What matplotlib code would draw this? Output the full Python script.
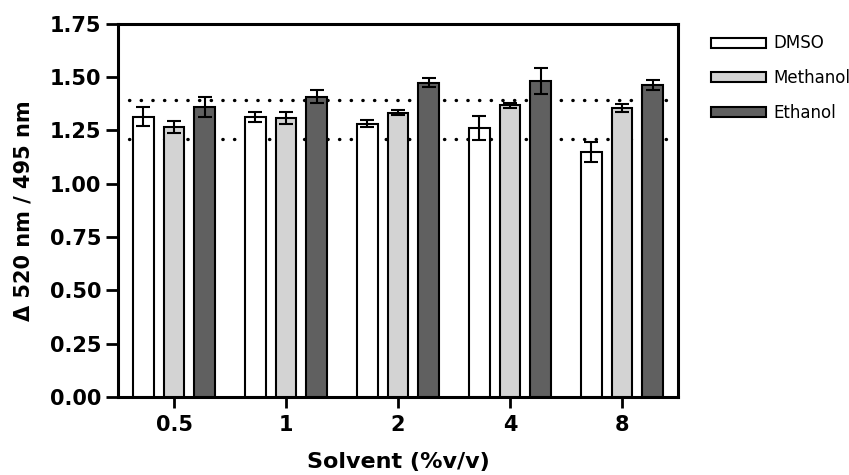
import matplotlib
matplotlib.use("Agg")
import matplotlib.pyplot as plt
import numpy as np

# data
concentrations = ["0.5", "1", "2", "4", "8"]
solvents = ["DMSO", "Methanol", "Ethanol"]
dmso = [1.314, 1.312, 1.280, 1.259, 1.148]
dmso_err = [0.044, 0.024, 0.017, 0.057, 0.049]
methanol = [1.264, 1.308, 1.333, 1.366, 1.355]
methanol_err = [0.027, 0.027, 0.014, 0.012, 0.020]
ethanol = [1.359, 1.408, 1.473, 1.481, 1.462]
ethanol_err = [0.047, 0.030, 0.020, 0.062, 0.023]
band_low, band_high = 1.208, 1.392

colors = ["white", "#d3d3d3", "#606060"]

plt.rcParams['font.family'] = ['DejaVu Sans']

fig = plt.figure(figsize=(8.49, 4.75), dpi=100)
ax = fig.add_axes([0.139, 0.1642, 0.6596, 0.7863])

x = np.arange(len(concentrations))
width = 0.184
step = 0.273
series = [(dmso, dmso_err), (methanol, methanol_err), (ethanol, ethanol_err)]

for i, ((vals, errs), name) in enumerate(zip(series, solvents)):
    pos = x + (i - 1) * step
    ax.bar(pos, vals, width, color=colors[i], edgecolor='black',
           linewidth=1.5, label=name, zorder=3)
    ax.errorbar(pos, vals, yerr=errs, fmt='none', ecolor='black',
                elinewidth=1.5, capsize=4.7, capthick=1.5, zorder=4)

# dotted reference band
for level in (band_low, band_high):
    ax.axhline(level, xmin=0.02, xmax=0.98, color='black', lw=2.4,
               linestyle=(0, (0.1, 3.4)), dash_capstyle='round', zorder=1)

ax.set_xlim(-0.5, 4.5)
ax.set_ylim(0, 1.75)
ax.set_yticks(np.arange(0, 1.76, 0.25))
ax.set_yticklabels([f"{v:.2f}" for v in np.arange(0, 1.76, 0.25)])
ax.set_xticks(x)
ax.set_xticklabels(concentrations)

for lab in ax.get_xticklabels() + ax.get_yticklabels():
    lab.set_fontweight('bold')
    lab.set_fontsize(15)

ax.tick_params(axis='y', length=9, width=2, pad=3)
ax.tick_params(axis='x', length=8, width=2, pad=5)
for sp in ax.spines.values():
    sp.set_linewidth(2.2)

ax.set_ylabel("\u0394 520 nm / 495 nm", fontsize=15, fontweight='bold', labelpad=12)
ax.set_xlabel("Solvent (%v/v)", fontsize=16, fontweight='bold', labelpad=12)

fig.legend(loc='upper left', bbox_to_anchor=(0.828, 0.945), frameon=False,
           fontsize=12, handlelength=3.3, handleheight=0.55, handletextpad=0.4,
           labelspacing=1.0, borderpad=0)

plt.savefig("out.png", dpi=100)
